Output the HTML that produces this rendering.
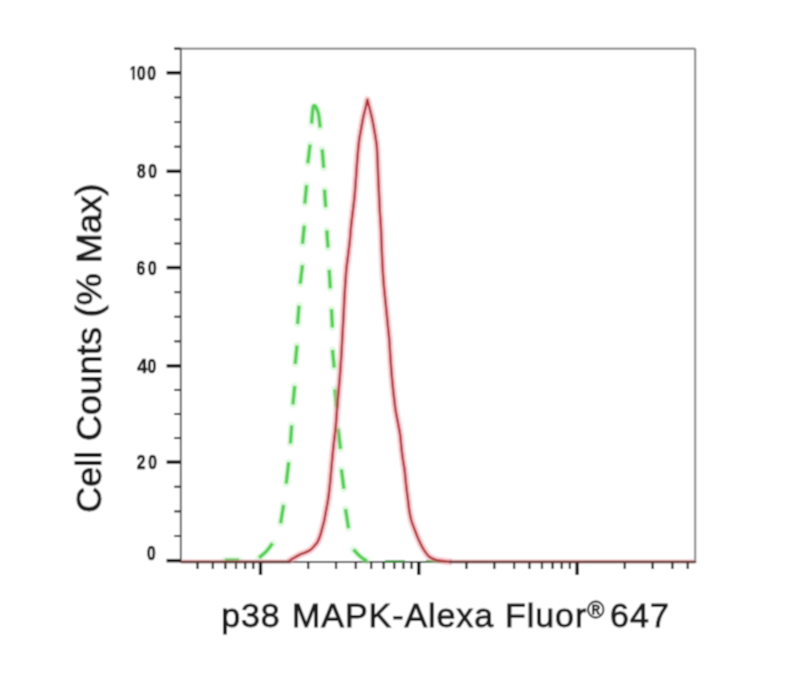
<!DOCTYPE html>
<html><head><meta charset="utf-8"><style>
html,body{margin:0;padding:0;background:#fff;width:804px;height:690px;overflow:hidden}
svg{display:block}
</style></head><body>
<svg width="804" height="690" viewBox="0 0 804 690">
<defs><filter id="soft" x="0" y="0" width="804" height="690" filterUnits="userSpaceOnUse"><feConvolveMatrix order="3" kernelMatrix="1 2 1 2 4 2 1 2 1" divisor="16" edgeMode="duplicate"/></filter></defs>
<rect width="804" height="690" fill="#fff"/>
<g filter="url(#soft)">
<rect width="804" height="690" fill="#fff"/>
<g fill="none" stroke-linecap="butt">
<line x1="174" y1="48.6" x2="695.2" y2="48.6" stroke="#6e6e6e" stroke-width="1.9"/>
<line x1="695.2" y1="48.6" x2="695.2" y2="562.0" stroke="#808080" stroke-width="2"/>
<line x1="180.8" y1="48.6" x2="180.8" y2="563.0" stroke="#555" stroke-width="1.9"/>
<line x1="180.8" y1="562.0" x2="696.2" y2="562.0" stroke="#555" stroke-width="1.9"/>
<line x1="166.60" y1="72.80" x2="180.80" y2="72.80" stroke="#141414" stroke-width="3.5" />
<line x1="166.60" y1="171.30" x2="180.80" y2="171.30" stroke="#141414" stroke-width="3.5" />
<line x1="166.60" y1="267.60" x2="180.80" y2="267.60" stroke="#141414" stroke-width="3.5" />
<line x1="166.60" y1="365.90" x2="180.80" y2="365.90" stroke="#141414" stroke-width="3.5" />
<line x1="166.60" y1="462.10" x2="180.80" y2="462.10" stroke="#141414" stroke-width="3.5" />
<line x1="166.60" y1="560.65" x2="180.80" y2="560.65" stroke="#141414" stroke-width="3.5" />
<line x1="174.30" y1="97.42" x2="180.80" y2="97.42" stroke="#141414" stroke-width="2" />
<line x1="174.30" y1="122.05" x2="180.80" y2="122.05" stroke="#141414" stroke-width="2" />
<line x1="174.30" y1="146.68" x2="180.80" y2="146.68" stroke="#141414" stroke-width="2" />
<line x1="174.30" y1="195.38" x2="180.80" y2="195.38" stroke="#141414" stroke-width="2" />
<line x1="174.30" y1="219.45" x2="180.80" y2="219.45" stroke="#141414" stroke-width="2" />
<line x1="174.30" y1="243.53" x2="180.80" y2="243.53" stroke="#141414" stroke-width="2" />
<line x1="174.30" y1="292.18" x2="180.80" y2="292.18" stroke="#141414" stroke-width="2" />
<line x1="174.30" y1="316.75" x2="180.80" y2="316.75" stroke="#141414" stroke-width="2" />
<line x1="174.30" y1="341.32" x2="180.80" y2="341.32" stroke="#141414" stroke-width="2" />
<line x1="174.30" y1="389.95" x2="180.80" y2="389.95" stroke="#141414" stroke-width="2" />
<line x1="174.30" y1="414.00" x2="180.80" y2="414.00" stroke="#141414" stroke-width="2" />
<line x1="174.30" y1="438.05" x2="180.80" y2="438.05" stroke="#141414" stroke-width="2" />
<line x1="174.30" y1="486.74" x2="180.80" y2="486.74" stroke="#141414" stroke-width="2" />
<line x1="174.30" y1="511.38" x2="180.80" y2="511.38" stroke="#141414" stroke-width="2" />
<line x1="174.30" y1="536.01" x2="180.80" y2="536.01" stroke="#141414" stroke-width="2" />
<line x1="174.30" y1="48.60" x2="180.80" y2="48.60" stroke="#141414" stroke-width="2" />
<line x1="260.50" y1="562.00" x2="260.50" y2="575.00" stroke="#141414" stroke-width="3.4" />
<line x1="418.80" y1="562.00" x2="418.80" y2="575.00" stroke="#141414" stroke-width="3.4" />
<line x1="577.10" y1="562.00" x2="577.10" y2="575.00" stroke="#141414" stroke-width="3.4" />
<line x1="197.51" y1="562.00" x2="197.51" y2="569.00" stroke="#141414" stroke-width="2.2" />
<line x1="212.85" y1="562.00" x2="212.85" y2="569.00" stroke="#141414" stroke-width="2.2" />
<line x1="225.38" y1="562.00" x2="225.38" y2="569.00" stroke="#141414" stroke-width="2.2" />
<line x1="235.98" y1="562.00" x2="235.98" y2="569.00" stroke="#141414" stroke-width="2.2" />
<line x1="245.16" y1="562.00" x2="245.16" y2="569.00" stroke="#141414" stroke-width="2.2" />
<line x1="253.26" y1="562.00" x2="253.26" y2="569.00" stroke="#141414" stroke-width="2.2" />
<line x1="308.15" y1="562.00" x2="308.15" y2="569.00" stroke="#141414" stroke-width="2.2" />
<line x1="336.03" y1="562.00" x2="336.03" y2="569.00" stroke="#141414" stroke-width="2.2" />
<line x1="355.81" y1="562.00" x2="355.81" y2="569.00" stroke="#141414" stroke-width="2.2" />
<line x1="371.15" y1="562.00" x2="371.15" y2="569.00" stroke="#141414" stroke-width="2.2" />
<line x1="383.68" y1="562.00" x2="383.68" y2="569.00" stroke="#141414" stroke-width="2.2" />
<line x1="394.28" y1="562.00" x2="394.28" y2="569.00" stroke="#141414" stroke-width="2.2" />
<line x1="403.46" y1="562.00" x2="403.46" y2="569.00" stroke="#141414" stroke-width="2.2" />
<line x1="411.56" y1="562.00" x2="411.56" y2="569.00" stroke="#141414" stroke-width="2.2" />
<line x1="466.45" y1="562.00" x2="466.45" y2="569.00" stroke="#141414" stroke-width="2.2" />
<line x1="494.33" y1="562.00" x2="494.33" y2="569.00" stroke="#141414" stroke-width="2.2" />
<line x1="514.11" y1="562.00" x2="514.11" y2="569.00" stroke="#141414" stroke-width="2.2" />
<line x1="529.45" y1="562.00" x2="529.45" y2="569.00" stroke="#141414" stroke-width="2.2" />
<line x1="541.98" y1="562.00" x2="541.98" y2="569.00" stroke="#141414" stroke-width="2.2" />
<line x1="552.58" y1="562.00" x2="552.58" y2="569.00" stroke="#141414" stroke-width="2.2" />
<line x1="561.76" y1="562.00" x2="561.76" y2="569.00" stroke="#141414" stroke-width="2.2" />
<line x1="569.86" y1="562.00" x2="569.86" y2="569.00" stroke="#141414" stroke-width="2.2" />
<line x1="624.75" y1="562.00" x2="624.75" y2="569.00" stroke="#141414" stroke-width="2.2" />
<line x1="652.63" y1="562.00" x2="652.63" y2="569.00" stroke="#141414" stroke-width="2.2" />
<line x1="672.41" y1="562.00" x2="672.41" y2="569.00" stroke="#141414" stroke-width="2.2" />
<line x1="687.75" y1="562.00" x2="687.75" y2="569.00" stroke="#141414" stroke-width="2.2" />
</g>
<g fill="none" stroke="#b8f0b8" stroke-opacity="0.4" stroke-width="7" stroke-linejoin="round" stroke-linecap="round">
<path d="M311.60,123.50 C311.83,120.92 312.55,110.95 313.00,108.00 C313.45,105.05 313.80,105.93 314.30,105.80 C314.80,105.67 315.30,105.83 316.00,107.20 C316.70,108.57 317.80,110.62 318.50,114.00 C319.20,117.38 319.92,125.25 320.20,127.50"/>
<path d="M310.10,144.60 C309.72,147.70 308.18,160.10 307.80,163.20"/>
<path d="M306.60,185.10 C306.30,188.18 305.10,200.52 304.80,203.60"/>
<path d="M304.30,225.70 C304.00,228.72 302.80,240.78 302.50,243.80"/>
<path d="M302.50,265.10 C302.12,268.20 300.58,280.60 300.20,283.70"/>
<path d="M299.00,305.70 C298.77,308.75 297.83,320.95 297.60,324.00"/>
<path d="M297.00,345.50 C296.70,348.58 295.50,360.92 295.20,364.00"/>
<path d="M294.70,386.00 C294.40,389.08 293.20,401.42 292.90,404.50"/>
<path d="M291.70,425.40 C291.48,428.42 290.62,440.48 290.40,443.50"/>
<path d="M288.70,462.30 C288.28,465.85 286.62,480.05 286.20,483.60"/>
<path d="M283.60,504.90 C283.10,507.95 281.10,520.15 280.60,523.20"/>
<path d="M272.50,543.40 C271.47,544.72 268.55,548.90 266.30,551.30 C264.05,553.70 260.22,556.72 259.00,557.80"/>
<path d="M239.00,560.20 C236.67,560.20 227.33,560.20 225.00,560.20"/>
<path d="M322.20,149.30 C322.45,152.38 323.45,164.72 323.70,167.80"/>
<path d="M324.50,189.70 C324.70,192.60 325.50,204.20 325.70,207.10"/>
<path d="M326.80,230.30 C327.00,233.20 327.80,244.80 328.00,247.70"/>
<path d="M329.20,269.80 C329.38,272.88 330.12,285.22 330.30,288.30"/>
<path d="M331.50,309.20 C331.65,312.25 332.25,324.45 332.40,327.50"/>
<path d="M332.50,349.80 C332.78,352.77 333.92,364.63 334.20,367.60"/>
<path d="M334.90,389.30 C335.18,392.25 336.32,404.05 336.60,407.00"/>
<path d="M338.20,428.70 C338.58,432.08 340.12,445.62 340.50,449.00"/>
<path d="M341.40,469.40 C341.82,472.62 343.48,485.48 343.90,488.70"/>
<path d="M345.50,509.00 C346.00,512.20 348.00,525.00 348.50,528.20"/>
<path d="M353.50,549.50 C354.58,550.63 357.78,554.35 360.00,556.30 C362.22,558.25 365.67,560.38 366.80,561.20"/>
</g>
<g fill="none" stroke="#52cf52" stroke-width="3.4" stroke-linejoin="round">
<path d="M311.60,123.50 C311.83,120.92 312.55,110.95 313.00,108.00 C313.45,105.05 313.80,105.93 314.30,105.80 C314.80,105.67 315.30,105.83 316.00,107.20 C316.70,108.57 317.80,110.62 318.50,114.00 C319.20,117.38 319.92,125.25 320.20,127.50"/>
<path d="M310.10,144.60 C309.72,147.70 308.18,160.10 307.80,163.20"/>
<path d="M306.60,185.10 C306.30,188.18 305.10,200.52 304.80,203.60"/>
<path d="M304.30,225.70 C304.00,228.72 302.80,240.78 302.50,243.80"/>
<path d="M302.50,265.10 C302.12,268.20 300.58,280.60 300.20,283.70"/>
<path d="M299.00,305.70 C298.77,308.75 297.83,320.95 297.60,324.00"/>
<path d="M297.00,345.50 C296.70,348.58 295.50,360.92 295.20,364.00"/>
<path d="M294.70,386.00 C294.40,389.08 293.20,401.42 292.90,404.50"/>
<path d="M291.70,425.40 C291.48,428.42 290.62,440.48 290.40,443.50"/>
<path d="M288.70,462.30 C288.28,465.85 286.62,480.05 286.20,483.60"/>
<path d="M283.60,504.90 C283.10,507.95 281.10,520.15 280.60,523.20"/>
<path d="M272.50,543.40 C271.47,544.72 268.55,548.90 266.30,551.30 C264.05,553.70 260.22,556.72 259.00,557.80"/>
<path d="M239.00,560.20 C236.67,560.20 227.33,560.20 225.00,560.20"/>
<path d="M322.20,149.30 C322.45,152.38 323.45,164.72 323.70,167.80"/>
<path d="M324.50,189.70 C324.70,192.60 325.50,204.20 325.70,207.10"/>
<path d="M326.80,230.30 C327.00,233.20 327.80,244.80 328.00,247.70"/>
<path d="M329.20,269.80 C329.38,272.88 330.12,285.22 330.30,288.30"/>
<path d="M331.50,309.20 C331.65,312.25 332.25,324.45 332.40,327.50"/>
<path d="M332.50,349.80 C332.78,352.77 333.92,364.63 334.20,367.60"/>
<path d="M334.90,389.30 C335.18,392.25 336.32,404.05 336.60,407.00"/>
<path d="M338.20,428.70 C338.58,432.08 340.12,445.62 340.50,449.00"/>
<path d="M341.40,469.40 C341.82,472.62 343.48,485.48 343.90,488.70"/>
<path d="M345.50,509.00 C346.00,512.20 348.00,525.00 348.50,528.20"/>
<path d="M353.50,549.50 C354.58,550.63 357.78,554.35 360.00,556.30 C362.22,558.25 365.67,560.38 366.80,561.20"/>
</g>
<g stroke="#3a8a3a" stroke-width="2.6"><line x1="385" y1="561.6" x2="405" y2="561.6"/><line x1="426" y1="561.6" x2="446" y2="561.6"/></g>
<path d="M288.30,561.60 C289.13,561.05 291.45,559.43 293.30,558.30 C295.15,557.17 297.37,555.78 299.40,554.80 C301.43,553.82 303.63,553.25 305.50,552.40 C307.37,551.55 309.08,550.83 310.60,549.70 C312.12,548.57 313.42,546.95 314.60,545.60 C315.78,544.25 316.77,543.28 317.70,541.60 C318.63,539.92 319.45,537.70 320.20,535.50 C320.95,533.30 321.52,530.93 322.20,528.40 C322.88,525.87 323.70,523.00 324.30,520.30 C324.90,517.60 325.30,514.90 325.80,512.20 C326.30,509.50 326.83,506.80 327.30,504.10 C327.77,501.40 328.10,499.92 328.60,496.00 C329.10,492.08 329.72,486.55 330.30,480.60 C330.88,474.65 331.53,466.35 332.10,460.30 C332.67,454.25 333.10,449.85 333.70,444.30 C334.30,438.75 335.15,432.78 335.70,427.00 C336.25,421.22 336.53,415.40 337.00,409.60 C337.47,403.80 338.00,398.00 338.50,392.20 C339.00,386.40 339.55,380.60 340.00,374.80 C340.45,369.00 340.83,363.20 341.20,357.40 C341.57,351.60 341.92,345.07 342.20,340.00 C342.48,334.93 342.65,331.58 342.90,327.00 C343.15,322.42 343.45,317.33 343.70,312.50 C343.95,307.67 344.13,302.83 344.40,298.00 C344.67,293.17 344.97,288.33 345.30,283.50 C345.63,278.67 345.92,273.83 346.40,269.00 C346.88,264.17 347.62,259.33 348.20,254.50 C348.78,249.67 349.43,244.58 349.90,240.00 C350.37,235.42 350.53,231.58 351.00,227.00 C351.47,222.42 352.13,217.33 352.70,212.50 C353.27,207.67 353.92,202.83 354.40,198.00 C354.88,193.17 355.23,188.33 355.60,183.50 C355.97,178.67 356.25,173.83 356.60,169.00 C356.95,164.17 357.37,158.50 357.70,154.50 C358.03,150.50 358.32,147.67 358.60,145.00 C358.88,142.33 359.05,140.80 359.40,138.50 C359.75,136.20 360.27,133.62 360.70,131.20 C361.13,128.78 361.55,126.42 362.00,124.00 C362.45,121.58 362.87,119.12 363.40,116.70 C363.93,114.28 364.70,111.57 365.20,109.50 C365.70,107.43 366.03,105.95 366.40,104.30 C366.77,102.65 367.23,100.38 367.40,99.60 L367.40,99.60 C367.58,100.33 368.08,102.35 368.50,104.00 C368.92,105.65 369.37,107.38 369.90,109.50 C370.43,111.62 371.15,114.28 371.70,116.70 C372.25,119.12 372.73,121.58 373.20,124.00 C373.67,126.42 374.08,128.78 374.50,131.20 C374.92,133.62 375.33,136.20 375.70,138.50 C376.07,140.80 376.43,142.33 376.70,145.00 C376.97,147.67 377.10,150.50 377.30,154.50 C377.50,158.50 377.70,164.17 377.90,169.00 C378.10,173.83 378.28,178.67 378.50,183.50 C378.72,188.33 378.97,193.17 379.20,198.00 C379.43,202.83 379.62,207.67 379.90,212.50 C380.18,217.33 380.65,222.42 380.90,227.00 C381.15,231.58 381.22,235.42 381.40,240.00 C381.58,244.58 381.78,249.67 382.00,254.50 C382.22,259.33 382.42,264.17 382.70,269.00 C382.98,273.83 383.30,278.67 383.70,283.50 C384.10,288.33 384.62,293.17 385.10,298.00 C385.58,302.83 386.12,307.67 386.60,312.50 C387.08,317.33 387.55,322.42 388.00,327.00 C388.45,331.58 388.90,334.93 389.30,340.00 C389.70,345.07 390.00,351.60 390.40,357.40 C390.80,363.20 391.20,369.00 391.70,374.80 C392.20,380.60 392.77,386.40 393.40,392.20 C394.03,398.00 394.77,404.63 395.50,409.60 C396.23,414.57 397.02,417.73 397.80,422.00 C398.58,426.27 399.55,430.47 400.20,435.20 C400.85,439.93 401.18,445.93 401.70,450.40 C402.22,454.87 402.82,458.73 403.30,462.00 C403.78,465.27 404.22,467.00 404.60,470.00 C404.98,473.00 405.25,476.67 405.60,480.00 C405.95,483.33 406.30,486.67 406.70,490.00 C407.10,493.33 407.58,496.67 408.00,500.00 C408.42,503.33 408.67,506.67 409.20,510.00 C409.73,513.33 410.27,516.67 411.20,520.00 C412.13,523.33 413.53,526.67 414.80,530.00 C416.07,533.33 417.28,536.68 418.80,540.00 C420.32,543.32 422.05,547.02 423.90,549.90 C425.75,552.78 427.67,555.58 429.90,557.30 C432.13,559.02 434.57,559.52 437.30,560.20 C440.03,560.88 443.85,561.15 446.30,561.40 C448.75,561.65 451.05,561.65 452.00,561.70" fill="none" stroke="#f4a0aa" stroke-opacity="0.5" stroke-width="7" stroke-linejoin="round"/>
<path d="M288.30,561.60 C289.13,561.05 291.45,559.43 293.30,558.30 C295.15,557.17 297.37,555.78 299.40,554.80 C301.43,553.82 303.63,553.25 305.50,552.40 C307.37,551.55 309.08,550.83 310.60,549.70 C312.12,548.57 313.42,546.95 314.60,545.60 C315.78,544.25 316.77,543.28 317.70,541.60 C318.63,539.92 319.45,537.70 320.20,535.50 C320.95,533.30 321.52,530.93 322.20,528.40 C322.88,525.87 323.70,523.00 324.30,520.30 C324.90,517.60 325.30,514.90 325.80,512.20 C326.30,509.50 326.83,506.80 327.30,504.10 C327.77,501.40 328.10,499.92 328.60,496.00 C329.10,492.08 329.72,486.55 330.30,480.60 C330.88,474.65 331.53,466.35 332.10,460.30 C332.67,454.25 333.10,449.85 333.70,444.30 C334.30,438.75 335.15,432.78 335.70,427.00 C336.25,421.22 336.53,415.40 337.00,409.60 C337.47,403.80 338.00,398.00 338.50,392.20 C339.00,386.40 339.55,380.60 340.00,374.80 C340.45,369.00 340.83,363.20 341.20,357.40 C341.57,351.60 341.92,345.07 342.20,340.00 C342.48,334.93 342.65,331.58 342.90,327.00 C343.15,322.42 343.45,317.33 343.70,312.50 C343.95,307.67 344.13,302.83 344.40,298.00 C344.67,293.17 344.97,288.33 345.30,283.50 C345.63,278.67 345.92,273.83 346.40,269.00 C346.88,264.17 347.62,259.33 348.20,254.50 C348.78,249.67 349.43,244.58 349.90,240.00 C350.37,235.42 350.53,231.58 351.00,227.00 C351.47,222.42 352.13,217.33 352.70,212.50 C353.27,207.67 353.92,202.83 354.40,198.00 C354.88,193.17 355.23,188.33 355.60,183.50 C355.97,178.67 356.25,173.83 356.60,169.00 C356.95,164.17 357.37,158.50 357.70,154.50 C358.03,150.50 358.32,147.67 358.60,145.00 C358.88,142.33 359.05,140.80 359.40,138.50 C359.75,136.20 360.27,133.62 360.70,131.20 C361.13,128.78 361.55,126.42 362.00,124.00 C362.45,121.58 362.87,119.12 363.40,116.70 C363.93,114.28 364.70,111.57 365.20,109.50 C365.70,107.43 366.03,105.95 366.40,104.30 C366.77,102.65 367.23,100.38 367.40,99.60 L367.40,99.60 C367.58,100.33 368.08,102.35 368.50,104.00 C368.92,105.65 369.37,107.38 369.90,109.50 C370.43,111.62 371.15,114.28 371.70,116.70 C372.25,119.12 372.73,121.58 373.20,124.00 C373.67,126.42 374.08,128.78 374.50,131.20 C374.92,133.62 375.33,136.20 375.70,138.50 C376.07,140.80 376.43,142.33 376.70,145.00 C376.97,147.67 377.10,150.50 377.30,154.50 C377.50,158.50 377.70,164.17 377.90,169.00 C378.10,173.83 378.28,178.67 378.50,183.50 C378.72,188.33 378.97,193.17 379.20,198.00 C379.43,202.83 379.62,207.67 379.90,212.50 C380.18,217.33 380.65,222.42 380.90,227.00 C381.15,231.58 381.22,235.42 381.40,240.00 C381.58,244.58 381.78,249.67 382.00,254.50 C382.22,259.33 382.42,264.17 382.70,269.00 C382.98,273.83 383.30,278.67 383.70,283.50 C384.10,288.33 384.62,293.17 385.10,298.00 C385.58,302.83 386.12,307.67 386.60,312.50 C387.08,317.33 387.55,322.42 388.00,327.00 C388.45,331.58 388.90,334.93 389.30,340.00 C389.70,345.07 390.00,351.60 390.40,357.40 C390.80,363.20 391.20,369.00 391.70,374.80 C392.20,380.60 392.77,386.40 393.40,392.20 C394.03,398.00 394.77,404.63 395.50,409.60 C396.23,414.57 397.02,417.73 397.80,422.00 C398.58,426.27 399.55,430.47 400.20,435.20 C400.85,439.93 401.18,445.93 401.70,450.40 C402.22,454.87 402.82,458.73 403.30,462.00 C403.78,465.27 404.22,467.00 404.60,470.00 C404.98,473.00 405.25,476.67 405.60,480.00 C405.95,483.33 406.30,486.67 406.70,490.00 C407.10,493.33 407.58,496.67 408.00,500.00 C408.42,503.33 408.67,506.67 409.20,510.00 C409.73,513.33 410.27,516.67 411.20,520.00 C412.13,523.33 413.53,526.67 414.80,530.00 C416.07,533.33 417.28,536.68 418.80,540.00 C420.32,543.32 422.05,547.02 423.90,549.90 C425.75,552.78 427.67,555.58 429.90,557.30 C432.13,559.02 434.57,559.52 437.30,560.20 C440.03,560.88 443.85,561.15 446.30,561.40 C448.75,561.65 451.05,561.65 452.00,561.70" fill="none" stroke="#b03438" stroke-width="2.4" stroke-linejoin="round"/>
<line x1="181" y1="561.8" x2="290" y2="561.8" stroke="#622a2a" stroke-width="2.8"/>
<line x1="449" y1="561.8" x2="695.2" y2="561.8" stroke="#622a2a" stroke-width="2.8"/>
<line x1="181" y1="560.2" x2="290" y2="560.2" stroke="#e8a0a0" stroke-opacity="0.5" stroke-width="1.5"/>
<line x1="449" y1="560.2" x2="695.2" y2="560.2" stroke="#e8a0a0" stroke-opacity="0.5" stroke-width="1.5"/>
<g font-family="Liberation Sans" fill="#1c1c1c">
<path d="M132.50,65.90 L134.80,65.90 L134.80,79.80 L132.50,79.80 Z M132.50,65.90 L133.50,67.40 L130.70,70.40 L130.30,68.80 Z"/>
<text transform="translate(137.10,79.80) scale(0.8,1)" font-size="19.5" font-weight="bold" stroke="#1c1c1c" stroke-width="0.7">0</text>
<text transform="translate(147.30,79.80) scale(0.8,1)" font-size="19.5" font-weight="bold" stroke="#1c1c1c" stroke-width="0.7">0</text>
<text transform="translate(136.90,178.30) scale(0.8,1)" font-size="19.5" font-weight="bold" stroke="#1c1c1c" stroke-width="0.7">8</text>
<text transform="translate(148.20,178.30) scale(0.8,1)" font-size="19.5" font-weight="bold" stroke="#1c1c1c" stroke-width="0.7">0</text>
<text transform="translate(136.40,274.60) scale(0.8,1)" font-size="19.5" font-weight="bold" stroke="#1c1c1c" stroke-width="0.7">6</text>
<text transform="translate(148.00,274.60) scale(0.8,1)" font-size="19.5" font-weight="bold" stroke="#1c1c1c" stroke-width="0.7">0</text>
<text transform="translate(137.30,372.90) scale(0.92,1)" font-size="19.5" font-weight="bold" stroke="#1c1c1c" stroke-width="0.7">4</text>
<text transform="translate(147.60,372.90) scale(0.8,1)" font-size="19.5" font-weight="bold" stroke="#1c1c1c" stroke-width="0.7">0</text>
<text transform="translate(136.80,469.10) scale(0.8,1)" font-size="19.5" font-weight="bold" stroke="#1c1c1c" stroke-width="0.7">2</text>
<text transform="translate(148.20,469.10) scale(0.8,1)" font-size="19.5" font-weight="bold" stroke="#1c1c1c" stroke-width="0.7">0</text>
<text transform="translate(147.10,559.70) scale(0.8,1)" font-size="19.5" font-weight="bold" stroke="#1c1c1c" stroke-width="0.7">0</text>
<g stroke="#1c1c1c" stroke-width="0.9">
<text transform="translate(101.3,512.8) rotate(-90) scale(1.0565,1.03)" font-size="34">Cell Counts (% Max)</text>
<g transform="translate(0,627.5) scale(1,0.975) translate(0,-627.5)">
<text x="221.3" y="627.5" font-size="34" letter-spacing="0.846">p38</text>
<text x="292.10" y="627.5" font-size="34" letter-spacing="0.94">MAPK-Alexa</text>
<text x="504.9" y="627.5" font-size="34" letter-spacing="0.975">Fluor</text>
<text x="610" y="627.5" font-size="34" letter-spacing="1.1">647</text>
</g>
<text x="587.3" y="618.1" font-size="23.2" stroke-width="0.85">®</text>
</g>
</g>
</g>
</svg>
</body></html>
